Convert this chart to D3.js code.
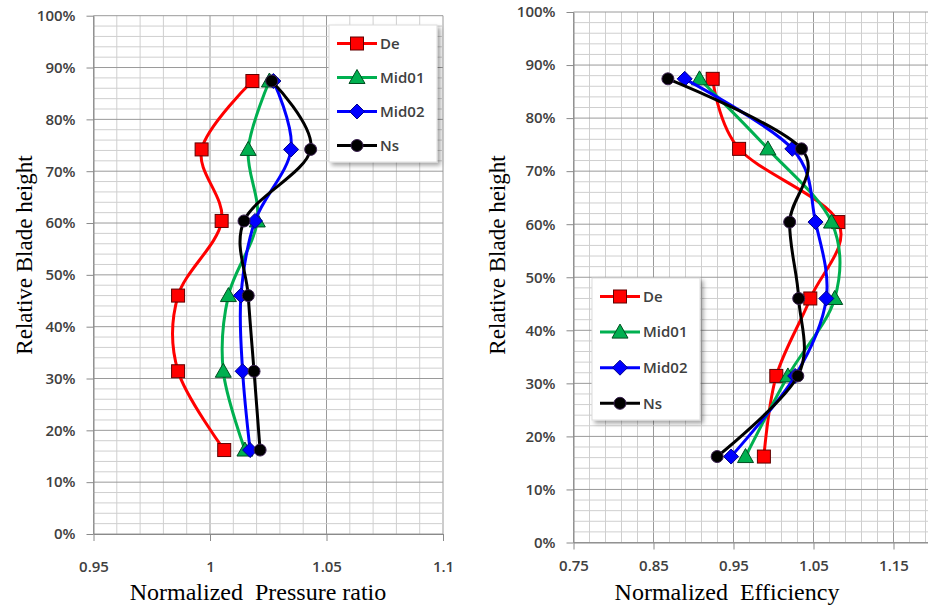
<!DOCTYPE html>
<html><head><meta charset="utf-8">
<script src="https://cdn.jsdelivr.net/npm/d3@7/dist/d3.min.js"></script>
<style>body{margin:0;background:#fff}svg{display:block}</style>
</head><body>
<svg id="c" width="928" height="609"></svg>
<script>
// ---- data ----
const heights = [87.4, 74.2, 60.4, 46.0, 31.4, 16.2];
const seriesNames = ["De", "Mid01", "Mid02", "Ns"];
const pressureDe    = [1.0182, 0.9964, 1.0050, 0.9863, 0.9863, 1.0061];
const pressureMid01 = [1.0255, 1.0164, 1.0203, 1.0079, 1.0057, 1.0150];
const pressureMid02 = [1.0272, 1.0348, 1.0193, 1.0133, 1.0140, 1.0172];
const pressureNs    = [1.0265, 1.0432, 1.0146, 1.0164, 1.0189, 1.0215];
const effDe    = [0.9240, 0.9570, 1.0810, 1.0460, 1.0035, 0.9880];
const effMid01 = [0.9075, 0.9930, 1.0725, 1.0765, 1.0180, 0.9650];
const effMid02 = [0.8890, 1.0235, 1.0525, 1.0660, 1.0270, 0.9470];
const effNs    = [0.8680, 1.0350, 1.0202, 1.0315, 1.0304, 0.9296];
const yTicks = [0, 10, 20, 30, 40, 50, 60, 70, 80, 90, 100];
const pressureTicks = [0.95, 1, 1.05, 1.1];
const effTicks = [0.75, 0.85, 0.95, 1.05, 1.15];

const colors = {De: "#ff0000", Mid01: "#00b050", Mid02: "#0000ff", Ns: "#000000"};
const strokes = {De: "#600000", Mid01: "#004d20", Mid02: "#00008b", Ns: "#3a2050"};

const svg = d3.select("#c");
const defs = svg.append("defs");
const f = defs.append("filter").attr("id", "sh").attr("x", "-10%").attr("y", "-10%").attr("width", "130%").attr("height", "130%");
f.append("feDropShadow").attr("dx", 3).attr("dy", 3).attr("stdDeviation", 2).attr("flood-color", "#000").attr("flood-opacity", 0.35);

const tickFont = "'Open Sans', sans-serif";
const titleFont = "'Liberation Serif', 'Times New Roman', serif";

function marker(g, name, x, y) {
  const c = colors[name], s = strokes[name];
  if (name === "De") {
    g.append("rect").attr("x", x - 6.5).attr("y", y - 6.5).attr("width", 13).attr("height", 13)
      .attr("fill", c).attr("stroke", s).attr("stroke-width", 1);
  } else if (name === "Mid01") {
    g.append("path").attr("d", `M${x},${y - 8}L${x + 8},${y + 6}L${x - 8},${y + 6}Z`)
      .attr("fill", c).attr("stroke", s).attr("stroke-width", 1);
  } else if (name === "Mid02") {
    g.append("path").attr("d", `M${x},${y - 7.5}L${x + 7.5},${y}L${x},${y + 7.5}L${x - 7.5},${y}Z`)
      .attr("fill", c).attr("stroke", s).attr("stroke-width", 1);
  } else {
    g.append("circle").attr("cx", x).attr("cy", y).attr("r", 6)
      .attr("fill", c).attr("stroke", s).attr("stroke-width", 1);
  }
}

function panel(cfg) {
  const g = svg.append("g");
  const x = d3.scaleLinear().domain(cfg.xDomain).range(cfg.xRange);
  const y = d3.scaleLinear().domain([0, 100]).range(cfg.yRange);
  const [x0, x1] = cfg.xDomain;
  // minor grid
  const nMinorX = Math.round((x1 - x0) / cfg.minor);
  const gridG = g.append("g");
  for (let i = 0; i <= nMinorX; i++) {
    const v = x0 + i * cfg.minor;
    const major = Math.abs(((v - x0) / cfg.major) - Math.round((v - x0) / cfg.major)) < 1e-6;
    gridG.append("line").attr("x1", x(v)).attr("x2", x(v)).attr("y1", y(0)).attr("y2", y(100))
      .attr("stroke", major ? "#9a9a9a" : "#cfcfcf").attr("stroke-width", 1);
  }
  for (let h = 0; h <= 100; h += 2) {
    const major = h % 10 === 0;
    gridG.append("line").attr("x1", x(x0)).attr("x2", x(x1)).attr("y1", y(h)).attr("y2", y(h))
      .attr("stroke", major ? "#9a9a9a" : "#cfcfcf").attr("stroke-width", 1);
  }
  // axes
  const ya = g.append("g").attr("transform", `translate(${x(x0)},0)`)
    .call(d3.axisLeft(y).tickValues(yTicks).tickFormat(d => d + "%").tickSize(7).tickPadding(11).tickSizeOuter(0));
  const xa = g.append("g").attr("transform", `translate(0,${y(0)})`)
    .call(d3.axisBottom(x).tickValues(cfg.ticks).tickFormat(d => String(d)).tickSize(7).tickPadding(cfg.xPad).tickSizeOuter(0));
  [ya, xa].forEach(a => {
    a.select(".domain").attr("stroke", "#8a8a8a");
    a.selectAll(".tick line").attr("stroke", "#8a8a8a");
    a.selectAll("text").attr("font-family", tickFont).attr("font-size", 15).attr("font-weight", 600).attr("fill", "#404040");
  });
  // series
  const line = d3.line().curve(d3.curveCardinal.tension(0)).x(d => x(d[0])).y(d => y(d[1]));
  cfg.series.forEach((vals, i) => {
    const name = seriesNames[i];
    const pts = vals.map((v, j) => [v, heights[j]]);
    g.append("path").attr("d", line(pts)).attr("fill", "none").attr("stroke", colors[name])
      .attr("stroke-width", 3).attr("stroke-linejoin", "round");
    const mg = g.append("g");
    pts.forEach(p => marker(mg, name, x(p[0]), y(p[1])));
  });
  // titles
  g.append("text").attr("x", cfg.xTitleX).attr("y", 600).attr("text-anchor", "middle")
    .attr("font-family", titleFont).attr("font-size", 24).attr("fill", "#000").attr("xml:space", "preserve")
    .text(cfg.xTitle);
  g.append("text").attr("transform", `translate(${cfg.yTitleX},255) rotate(-90)`).attr("text-anchor", "middle")
    .attr("font-family", titleFont).attr("font-size", 23).attr("fill", "#000")
    .text("Relative Blade height");
  // legend
  const L = cfg.legend;
  const lg = g.append("g");
  lg.append("rect").attr("x", L.x).attr("y", L.y).attr("width", L.w).attr("height", L.h)
    .attr("fill", "#fff").attr("stroke", "#dcdcdc").attr("filter", "url(#sh)");
  seriesNames.forEach((name, i) => {
    const yy = L.y + L.first + i * L.step;
    lg.append("line").attr("x1", L.x + 8).attr("x2", L.x + 48).attr("y1", yy).attr("y2", yy)
      .attr("stroke", colors[name]).attr("stroke-width", 3);
    marker(lg, name, L.x + 28, yy);
    lg.append("text").attr("x", L.x + 51).attr("y", yy).attr("dy", "0.35em")
      .attr("font-family", tickFont).attr("font-size", 15).attr("font-weight", 600).attr("fill", "#404040")
      .text(name);
  });
}

panel({
  xDomain: [0.95, 1.1], xRange: [93.5, 443], yRange: [534, 15.7],
  minor: 0.01, major: 0.05, ticks: pressureTicks, xPad: 20,
  series: [pressureDe, pressureMid01, pressureMid02, pressureNs],
  xTitle: "Normalized  Pressure ratio", xTitleX: 258, yTitleX: 32,
  legend: {x: 329, y: 25, w: 108, h: 137, first: 18.5, step: 34}
});
panel({
  xDomain: [0.75, 1.2], xRange: [573.5, 933.5], yRange: [542.5, 12],
  minor: 0.02, major: 0.1, ticks: effTicks, xPad: 11,
  series: [effDe, effMid01, effMid02, effNs],
  xTitle: "Normalized  Efficiency", xTitleX: 727, yTitleX: 505,
  legend: {x: 592, y: 278, w: 108, h: 142, first: 18.5, step: 35.6}
});
</script>
</body></html>
